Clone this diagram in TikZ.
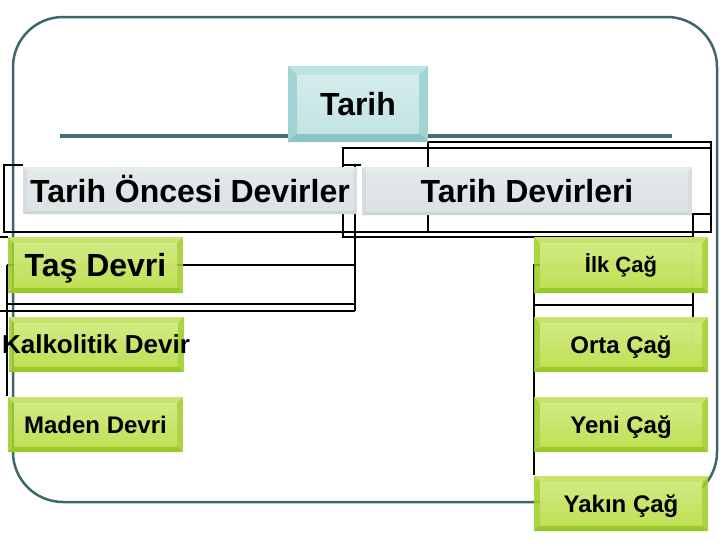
\documentclass[tikz,border=0pt]{standalone}
\usepackage{fontspec}
\setmainfont{Liberation Sans}
\definecolor{framecol}{HTML}{3F6769}
\definecolor{tlinecol}{HTML}{466E72}
\definecolor{gside}{HTML}{A0CF2C}
\definecolor{gtopb}{HTML}{CBE672}
\definecolor{gbotb}{HTML}{98C926}
\definecolor{gft}{HTML}{D6EE8C}
\definecolor{gfm}{HTML}{F7FCE8}
\definecolor{gfb}{HTML}{C4E25A}
\definecolor{tside}{HTML}{A2D3D3}
\definecolor{ttopb}{HTML}{BFE3E3}
\definecolor{tbotb}{HTML}{8CC5C5}
\definecolor{tft}{HTML}{D4EDED}
\definecolor{tfm}{HTML}{F2F9F9}
\definecolor{tfb}{HTML}{C3E3E3}
\definecolor{sside}{HTML}{D6DDE0}
\definecolor{stopb}{HTML}{E6EBED}
\definecolor{sbotb}{HTML}{CDD5D8}
\definecolor{sft}{HTML}{E3E8EA}
\definecolor{sfm}{HTML}{F3F6F7}
\definecolor{sfb}{HTML}{DDE3E5}
\tikzset{
  bevelbox/.style n args={6}{path picture={
    \fill[#2] (path picture bounding box.north west) -- (path picture bounding box.north east)
      -- ([shift={(-#1pt,-#1pt)}]path picture bounding box.north east)
      -- ([shift={(#1pt,-#1pt)}]path picture bounding box.north west) -- cycle;
    \fill[#3] (path picture bounding box.south west) -- (path picture bounding box.south east)
      -- ([shift={(-#1pt,#1pt)}]path picture bounding box.south east)
      -- ([shift={(#1pt,#1pt)}]path picture bounding box.south west) -- cycle;
    \shade[top color=#4, middle color=#5, bottom color=#6]
      ([shift={(#1pt,#1pt)}]path picture bounding box.south west) rectangle
      ([shift={(-#1pt,-#1pt)}]path picture bounding box.north east);
  }},
  basebox/.style={inner sep=0pt, text depth=0pt, text=black},
  fs32/.style={font=\bfseries\fontsize{32}{36}\selectfont, text height=23pt},
  fs26/.style={font=\bfseries\fontsize{26}{30}\selectfont, text height=18.7pt},
  fs24/.style={font=\bfseries\fontsize{24}{28}\selectfont, text height=17.3pt},
  fs22/.style={font=\bfseries\fontsize{22}{26}\selectfont, text height=15.8pt},
  greenbox/.style={basebox, fill=gside, fill opacity=0.88, text opacity=1,
    bevelbox={6}{gtopb}{gbotb}{gft}{gfm}{gfb}, minimum width=175pt},
  tealbox/.style={basebox, fill=tside, bevelbox={9}{ttopb}{tbotb}{tft}{tfm}{tfb}},
  greybox/.style={basebox, fill=sside, bevelbox={4}{stopb}{sbotb}{sft}{sfm}{sfb}},
  conn/.style={line width=2pt, black},
  frameline/.style={line width=2.5pt, framecol},
}
\begin{document}
\begin{tikzpicture}[x=1pt,y=-1pt]
\useasboundingbox (0,0) rectangle (728,546);
\fill[white] (0,0) rectangle (728,546);

% outer rounded frame and the teal rule
\draw[frameline, rounded corners=50pt] (13,17) rectangle (717,502);
\draw[line width=3.5pt, tlinecol] (60,136) -- (672,136);

% connector skeleton (drawn behind the boxes)
\coordinate (c1) at (23,165);
\coordinate (c2) at (4,165);
\coordinate (c3) at (4,232);
\coordinate (c4) at (711,232);
\coordinate (c5) at (711,142);
\coordinate (c6) at (428,142);
\coordinate (c7) at (428,232);
\coordinate (d1) at (361,165);
\coordinate (d2) at (343,165);
\coordinate (d3) at (343,148);
\coordinate (d4) at (711,148);
\coordinate (d5) at (343,237);
\coordinate (d6) at (693,237);
\coordinate (e1) at (693,214);
\coordinate (e2) at (711,214);
\coordinate (e3) at (693,305);
\coordinate (e4) at (534,305);
\coordinate (e5) at (693,344);
\coordinate (e6) at (672,344);
\coordinate (f1) at (355,165);
\coordinate (f2) at (355,311);
\coordinate (f3) at (355,265);
\coordinate (f4) at (7,265);
\coordinate (f5) at (7,396);
\coordinate (f6) at (7,304);
\coordinate (f7) at (355,304);
\coordinate (f8) at (0,311);
\coordinate (f9) at (0,237);
\coordinate (f10) at (8,237);
\coordinate (g1) at (534,265);
\coordinate (g2) at (534,475);
\coordinate (g3) at (693,265);

\draw[conn] (c1) -- (c2) -- (c3) -- (c4) -- (c5) -- (c6) -- (c7);
\draw[conn] (d1) -- (d2);
\draw[conn] (d4) -- (d3) -- (d5) -- (d6);
\draw[conn] (e2) -- (e1) -- (e3) -- (e4);
\draw[conn] (e3) -- (e5) -- (e6);
\draw[conn] (f1) -- (f2);
\draw[conn] (f4) -- (f3);
\draw[conn] (f4) -- (f5);
\draw[conn] (f6) -- (f7);
\draw[conn] (f8) -- (f2);
\draw[conn] (f9) -- (f10);
\draw[conn] (g3) -- (g1) -- (g2);

% boxes
\node[tealbox, fs32, minimum width=140pt, minimum height=76pt] (tarih) at (358,104) {Tarih};
\node[greybox, fs32, minimum width=334pt, minimum height=47pt] (tod) at (190,190.5) {Tarih Öncesi Devirler};
\node[greybox, fs32, minimum width=330pt, minimum height=48pt] (td) at (527,191) {Tarih Devirleri};

\node[greenbox, fs32, minimum height=56pt] (tas) at (95.5,265) {Taş Devri};
\node[greenbox, fs26, minimum height=55pt] (kalk) at (96,344.5) {\makebox[0pt][c]{Kalkolitik Devir}};
\node[greenbox, fs24, minimum height=55pt] (maden) at (95.5,424.5) {Maden Devri};

\node[greenbox, fs22, minimum width=174pt, minimum height=56pt] (ilk) at (621,265) {İlk Çağ};
\node[greenbox, fs24, minimum width=174pt, minimum height=55pt] (orta) at (621,344.5) {Orta Çağ};
\node[greenbox, fs24, minimum width=174pt, minimum height=55pt] (yeni) at (621,424.5) {Yeni Çağ};
\node[greenbox, fs24, minimum width=174pt, minimum height=55pt] (yakin) at (621,503.5) {Yakın Çağ};
\end{tikzpicture}
\end{document}
